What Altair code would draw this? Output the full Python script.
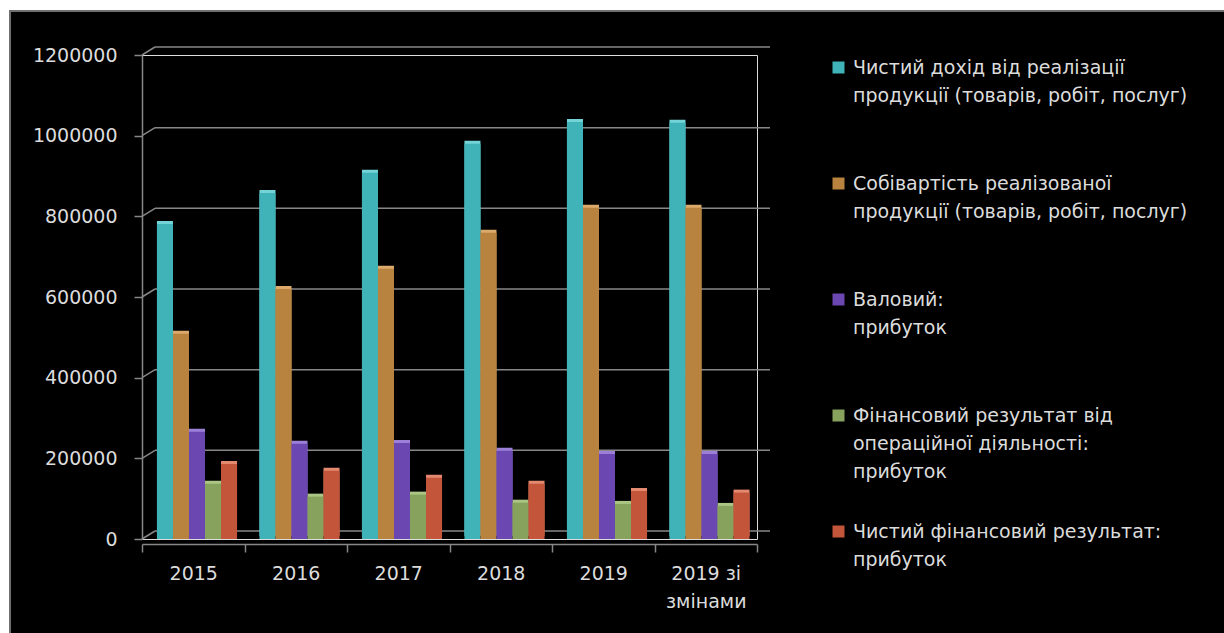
import altair as alt
import pandas as pd

years = ["2015", "2016", "2017", "2018", "2019", "2019 зі змінами"]
series = [
    "Чистий дохід від реалізації\nпродукції (товарів, робіт, послуг)",
    "Собівартість реалізованої\nпродукції (товарів, робіт, послуг)",
    "Валовий:\nприбуток",
    "Фінансовий результат від\nопераційної діяльності:\nприбуток",
    "Чистий фінансовий результат:\nприбуток",
]
colors = ["#3fb3b7", "#b8823f", "#6a47b1", "#86a25c", "#c2553a"]
side_colors = ["#74d3d6", "#dba96b", "#9c80d8", "#abc585", "#e3896f"]

revenue = [781000, 858000, 908000, 980000, 1034000, 1032000]
cost = [509000, 620000, 670000, 759000, 821000, 821000]
gross = [266000, 236000, 238000, 219000, 211000, 211000]
operating = [137000, 105000, 110000, 90000, 87000, 82000]
net = [186000, 169000, 152000, 137000, 119000, 115000]

y_ticks = [0, 200000, 400000, 600000, 800000, 1000000, 1200000]

values = [revenue, cost, gross, operating, net]
rows = []
for s, vals in zip(series, values):
    for y, v in zip(years, vals):
        rows.append({"year": y, "series": s, "value": v})
df = pd.DataFrame(rows)
tick_df = pd.DataFrame({"value": y_ticks})

W, H = 615, 484
PL, PT = 142, 55
DEPTH_X, DEPTH_Y = 13, 8
FONT = "DejaVu Sans"
FS = 19
TXT = "#dcdcdc"
GRAY = "#878787"

y_scale = alt.Scale(domain=[0, 1200000], nice=False)

x_enc = alt.X(
    "year:N",
    sort=years,
    scale=alt.Scale(paddingInner=0, paddingOuter=0),
    axis=alt.Axis(
        title=None,
        labelAngle=0,
        labelExpr="datum.label == '2019 зі змінами' ? ['2019 зі', 'змінами'] : datum.label",
        tickBand="extent",
        tickSize=8,
        tickColor=GRAY,
        tickWidth=1.5,
        domainColor=GRAY,
        domainWidth=1.5,
        offset=5,
        labelPadding=12,
        labelFontSize=FS,
        labelColor=TXT,
        labelFont=FONT,
        grid=False,
    ),
)
xo_enc = alt.XOffset(
    "series:N",
    sort=series,
    scale=alt.Scale(paddingInner=0, paddingOuter=0.7, align=0.667),
)
y_axis = alt.Axis(
    title=None,
    values=y_ticks,
    format="d",
    tickSize=8,
    tickColor=GRAY,
    tickWidth=1.5,
    domainColor=GRAY,
    domainWidth=1.5,
    grid=False,
    labelPadding=17,
    labelFontSize=FS,
    labelColor=TXT,
    labelFont=FONT,
)
y_enc = alt.Y("value:Q", scale=y_scale, axis=y_axis)

# back-wall gridlines (shifted up/right for the 3D look) and their connectors
grid = alt.Chart(tick_df).mark_rule(color=GRAY, strokeWidth=1.5, yOffset=-DEPTH_Y).encode(
    y=y_enc,
    x=alt.value(DEPTH_X),
    x2=alt.value(W + DEPTH_X),
)
connectors = alt.Chart(tick_df).mark_rule(color=GRAY, strokeWidth=1.5, y2Offset=-DEPTH_Y).encode(
    y=y_enc,
    y2="value:Q",
    x=alt.value(0),
    x2=alt.value(DEPTH_X),
)

# lighter "depth" faces drawn behind the front faces
sides = alt.Chart(df).mark_bar(xOffset=3, yOffset=-3, y2Offset=-3).encode(
    x=x_enc,
    xOffset=xo_enc,
    y=y_enc,
    color=alt.Color(
        "series:N",
        sort=series,
        scale=alt.Scale(domain=series, range=side_colors),
        legend=None,
    ),
)

bars = alt.Chart(df).mark_bar().encode(
    x=x_enc,
    xOffset=xo_enc,
    y=y_enc,
    color=alt.Color(
        "series:N",
        sort=series,
        scale=alt.Scale(domain=series, range=colors),
        legend=alt.Legend(
            title=None,
            orient="none",
            legendX=687,
            legendY=3,
            padding=0,
            symbolType="square",
            symbolSize=144,
            symbolStrokeWidth=0,
            labelExpr="split(datum.label, '\\n')",
            labelFont=FONT,
            labelFontSize=FS,
            labelColor=TXT,
            labelBaseline="middle",
            labelOffset=5,
            labelLimit=500,
            gridAlign="all",
            rowPadding=40,
        ),
    ),
)

frame_df = pd.DataFrame({"k": [0]})
left_strip = alt.Chart(frame_df).mark_rect(color="white").encode(
    x=alt.value(-PL), x2=alt.value(-PL + 9), y=alt.value(-PT), y2=alt.value(633 - PT)
)
top_strip = alt.Chart(frame_df).mark_rect(color="white").encode(
    x=alt.value(-PL), x2=alt.value(1224 - PL), y=alt.value(-PT), y2=alt.value(-PT + 10)
)
border = alt.Chart(frame_df).mark_rect(fillOpacity=0, stroke="#6f6f6f", strokeWidth=2).encode(
    x=alt.value(-PL + 10), x2=alt.value(1224 - PL + 20), y=alt.value(-PT + 11), y2=alt.value(633 - PT + 20)
)

chart = alt.layer(
    grid, connectors, sides, bars, left_strip, top_strip, border
).resolve_scale(
    color="independent"
).properties(
    width=W,
    height=H,
    autosize=alt.AutoSizeParams(type="none"),
    padding={"left": PL, "top": PT, "right": 1224 - PL - W, "bottom": 633 - PT - H},
    background="black",
).configure_view(stroke=None).configure(
    style={"guide-label": {"lineHeight": 28}}
)

chart.save("out.html", embed_options={"renderer": "svg", "actions": False})
